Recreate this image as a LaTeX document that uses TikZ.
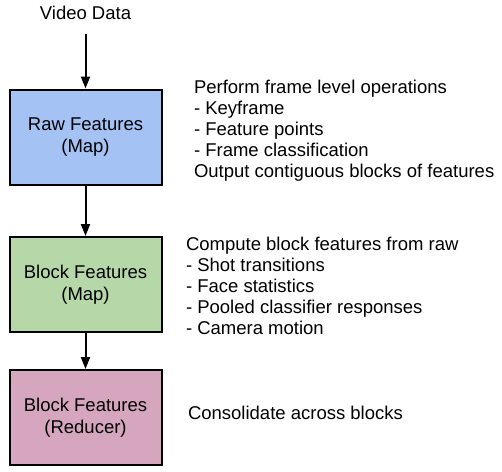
\documentclass[tikz,border=0pt]{standalone}
\usepackage{fontspec}
\setmainfont{Liberation Sans}
\usetikzlibrary{positioning, arrows.meta}

\definecolor{rawblue}{HTML}{A4C2F4}
\definecolor{mapgreen}{HTML}{B6D7A8}
\definecolor{redpink}{HTML}{D5A6BD}

\begin{document}
\begin{tikzpicture}[x=1pt, y=1pt, >={Triangle[length=12pt, width=9pt]}, line width=2pt, on grid,
	stage/.style={draw, minimum width=152pt, minimum height=95pt, align=center, font=\fontsize{18.5}{22.5}\selectfont},
	notes/.style={anchor=west, align=left, inner sep=0pt, font=\fontsize{18.5}{21}\selectfont}]
		\useasboundingbox (0,0) rectangle (502,-471);
		\node[stage, fill=rawblue]						(raw)   at (85.5,-137)		{Raw Features\\(Map)};
		\node[stage, fill=mapgreen]						(block) [below=147.5pt of raw]	{Block Features\\(Map)};
		\node[stage, fill=redpink]						(reduce) [below=133pt of block]	{Block Features\\(Reducer)};
		\node[font=\fontsize{18.5}{22}\selectfont]		(video) at (85.5,-13)		{Video Data};
		
		%Descricoes ao lado de cada etapa:
		\node[notes] (rawnote)    at (193,-131)   {Perform frame level operations\\- Keyframe\\- Feature points\\- Frame classification\\Output contiguous blocks of features};
		\node[notes] (blocknote)  at (185,-286)   {Compute block features from raw\\- Shot transitions\\- Face statistics\\- Pooled classifier responses\\- Camera motion};
		\node[notes] (reducenote) at (187,-413)   {Consolidate across blocks};
		
		%Fluxo entre as etapas:
		\draw[->, shorten <=10pt] (video) -- (raw);
		\draw[->] (raw)   -- (block);
		\draw[->] (block) -- (reduce);
	\end{tikzpicture}
\end{document}
